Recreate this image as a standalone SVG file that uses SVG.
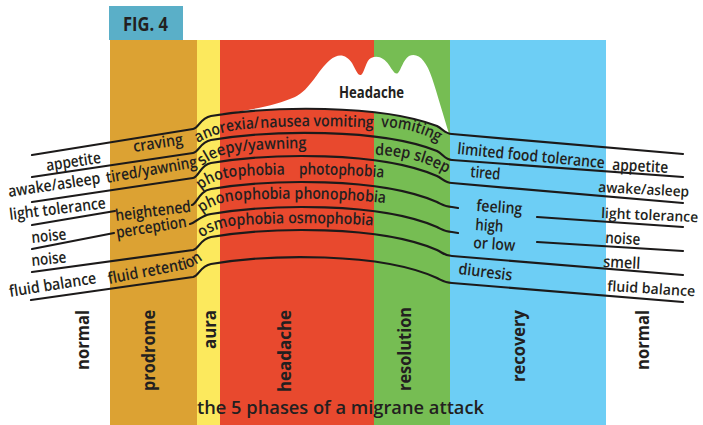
<svg xmlns="http://www.w3.org/2000/svg" width="703" height="425" viewBox="0 0 703 425">
<style>
.ln{fill:none;stroke:#1c1a1a;stroke-width:2.2;stroke-linecap:round;stroke-linejoin:round}
.t{font-family:"Open Sans","Noto Sans",sans-serif;font-weight:600;font-size:16px;fill:#231f20}
.e{font-size:14.5px}
.ph{font-family:"Open Sans","Noto Sans",sans-serif;font-weight:700;font-size:18.5px;fill:#231f20}
</style>
<defs>
<clipPath id="aboveL1"><path d="M211,30 L211,116 C270,106 380,104 437,126 C443,129 445,134 450,134 L450,30 Z"/></clipPath>
<path id="p_r1" d="M198,143 Q216,132 245,129 Q310,124 378,128"/>
<path id="p_v" d="M381,127 Q420,128 446,147"/>
<path id="p_r2" d="M202,166 Q217,153 245,151 Q280,148 318,148"/>
<path id="p_ds" d="M375,155 Q415,155 452,176"/>
<path id="p_r3" d="M201,190 Q214,178 240,176 Q320,172 390,178"/>
<path id="p_r4" d="M202,213 Q215,202 240,200 Q330,196 392,204"/>
<path id="p_r5" d="M202,238 Q215,227 240,225 Q310,221 380,226"/>
<path id="p_fr" d="M109,284 L182,270 Q198,267 214,249"/>
</defs>

<g id="columns">
<rect x="110" y="40" width="87" height="385" fill="#dca233"/>
<rect x="197" y="40" width="23" height="385" fill="#fce95d"/>
<rect x="220" y="40" width="154" height="385" fill="#e8492e"/>
<rect x="374" y="40" width="76" height="385" fill="#76bd53"/>
<rect x="450" y="40" width="156" height="385" fill="#6dcef5"/>
</g>

<g id="fig-label">
<rect x="109" y="6" width="74" height="34" fill="#5aafc8"/>
<text x="123" y="31" style="font-family:'Open Sans','Noto Sans',sans-serif;font-weight:700;font-size:20px;fill:#231f20" textLength="45" lengthAdjust="spacingAndGlyphs">FIG. 4</text>
</g>

<g id="headache-curve">
<path clip-path="url(#aboveL1)" fill="#ffffff" d="M220,125 L220,114 C245,111 275,106 295,97 C310,90 318,70 330,60 C338,53 346,54 352,63 C356,70 358,76 361,75 C364,74 366,60 371,58 C378,55 384,58 389,65 C393,71 395,75 398,73 C401,70 403,60 409,56 C418,52 426,60 432,78 C438,96 444,118 451,140 L451,170 L220,170 Z"/>
<text class="t" x="339" y="98" style="font-weight:700" textLength="65" lengthAdjust="spacingAndGlyphs">Headache</text>
</g>

<g id="connectors">
<path class="ln" d="M32,155 L193,129 C199,128 200,118 211,116 C270,106 380,104 437,126 C443,129 445,134 452,134 L683,154"/>
<path class="ln" d="M32,177 L193,153 C199,152 200,142 211,140 C270,130 380,128 437,151 C443,154 445,160 452,160 L683,177"/>
<path class="ln" d="M32,202 L193,178 C199,177 200,165 211,163 C270,153 380,151 437,176 C443,179 445,183 452,183 L683,203"/>
<path class="ln" d="M32,225 L115,211"/>
<path class="ln" d="M192,205 C197,204 199,191 211,189 C270,179 380,177 437,202 C443,205 445,207 452,207 L458,208"/>
<path class="ln" d="M537,217 L683,227"/>
<path class="ln" d="M32,249 L114,233"/>
<path class="ln" d="M190,224 C196,223 199,216 211,214 C270,204 380,202 437,227 C443,230 445,232 452,232 L458,233"/>
<path class="ln" d="M537,242 L683,251"/>
<path class="ln" d="M32,272 L193,250 C199,249 200,239 211,237 C270,227 380,225 437,250 C443,253 445,256 452,256 L683,275"/>
<path class="ln" d="M31,300 L193,277 C199,276 200,266 211,264 C270,254 380,252 437,278 C443,281 445,283 452,283 L683,302"/>
</g>

<g id="left-labels">
<text class="t" transform="translate(47,171) rotate(-8.5)" textLength="55" lengthAdjust="spacingAndGlyphs">appetite</text>
<text class="t" transform="translate(134,152) rotate(-8.5)" textLength="50" lengthAdjust="spacingAndGlyphs">craving</text>
<text class="t" transform="translate(9,197) rotate(-8.5)" textLength="93" lengthAdjust="spacingAndGlyphs">awake/asleep</text>
<text class="t" transform="translate(107,183) rotate(-10)" textLength="92" lengthAdjust="spacingAndGlyphs">tired/yawning</text>
<text class="t" transform="translate(10,220) rotate(-7)" textLength="97" lengthAdjust="spacingAndGlyphs">light tolerance</text>
<text class="t" transform="translate(116,221) rotate(-7)" textLength="76" lengthAdjust="spacingAndGlyphs">heightened</text>
<text class="t" transform="translate(32,243) rotate(-6)" textLength="35" lengthAdjust="spacingAndGlyphs">noise</text>
<text class="t" transform="translate(117,238) rotate(-9)" textLength="71" lengthAdjust="spacingAndGlyphs">perception</text>
<text class="t" transform="translate(32,266) rotate(-6)" textLength="35" lengthAdjust="spacingAndGlyphs">noise</text>
<text class="t"><textPath href="#p_fr" textLength="98" lengthAdjust="spacingAndGlyphs">fluid retention</textPath></text>
<text class="t" transform="translate(10,297) rotate(-9)" textLength="88" lengthAdjust="spacingAndGlyphs">fluid balance</text>
</g>

<g id="middle-labels">
<text class="t"><textPath href="#p_r1" textLength="64" lengthAdjust="spacingAndGlyphs">anorexia/</textPath></text>
<text class="t"><textPath href="#p_r1" startOffset="65" textLength="113" lengthAdjust="spacingAndGlyphs">nausea vomiting</textPath></text>
<text class="t"><textPath href="#p_v" textLength="60" lengthAdjust="spacingAndGlyphs">vomiting</textPath></text>
<text class="t"><textPath href="#p_r2" textLength="108" lengthAdjust="spacingAndGlyphs">sleepy/yawning</textPath></text>
<text class="t"><textPath href="#p_ds" textLength="75" lengthAdjust="spacingAndGlyphs">deep sleep</textPath></text>
<text class="t"><textPath href="#p_r3" textLength="87" lengthAdjust="spacingAndGlyphs">photophobia</textPath></text>
<text class="t"><textPath href="#p_r3" startOffset="101" textLength="85" lengthAdjust="spacingAndGlyphs">photophobia</textPath></text>
<text class="t"><textPath href="#p_r4" textLength="91" lengthAdjust="spacingAndGlyphs">phonophobia</textPath></text>
<text class="t"><textPath href="#p_r4" startOffset="95" textLength="91" lengthAdjust="spacingAndGlyphs">phonophobia</textPath></text>
<text class="t"><textPath href="#p_r5" textLength="85" lengthAdjust="spacingAndGlyphs">osmophobia</textPath></text>
<text class="t"><textPath href="#p_r5" startOffset="89" textLength="85" lengthAdjust="spacingAndGlyphs">osmophobia</textPath></text>
</g>

<g id="right-labels">
<text class="t" transform="translate(457,154) rotate(5.5)" textLength="148" lengthAdjust="spacingAndGlyphs">limited food tolerance</text>
<text class="t" transform="translate(612,170) rotate(3)" textLength="56" lengthAdjust="spacingAndGlyphs">appetite</text>
<text class="t" transform="translate(470,177) rotate(5)" textLength="30" lengthAdjust="spacingAndGlyphs">tired</text>
<text class="t e" transform="translate(598,192) rotate(3)" textLength="91" lengthAdjust="spacingAndGlyphs">awake/asleep</text>
<text class="t" transform="translate(476,211) rotate(4)" textLength="46" lengthAdjust="spacingAndGlyphs">feeling</text>
<text class="t" transform="translate(475,230) rotate(4)" textLength="28" lengthAdjust="spacingAndGlyphs">high</text>
<text class="t" transform="translate(473,248) rotate(4)" textLength="42" lengthAdjust="spacingAndGlyphs">or low</text>
<text class="t e" transform="translate(601,218) rotate(2.5)" textLength="97" lengthAdjust="spacingAndGlyphs">light tolerance</text>
<text class="t" transform="translate(605,243) rotate(3)" textLength="35" lengthAdjust="spacingAndGlyphs">noise</text>
<text class="t" transform="translate(603,267) rotate(3)" textLength="37" lengthAdjust="spacingAndGlyphs">smell</text>
<text class="t" transform="translate(458,274) rotate(7)" textLength="54" lengthAdjust="spacingAndGlyphs">diuresis</text>
<text class="t e" transform="translate(607,291) rotate(3.5)" textLength="88" lengthAdjust="spacingAndGlyphs">fluid balance</text>
</g>

<g id="phase-labels">
<text class="ph" text-anchor="end" transform="translate(89,310) rotate(-90)" textLength="60" lengthAdjust="spacingAndGlyphs">normal</text>
<text class="ph" text-anchor="end" transform="translate(155,310) rotate(-90)" textLength="81" lengthAdjust="spacingAndGlyphs">prodrome</text>
<text class="ph" text-anchor="end" transform="translate(216,310) rotate(-90)" textLength="39" lengthAdjust="spacingAndGlyphs">aura</text>
<text class="ph" text-anchor="end" transform="translate(291,310) rotate(-90)" textLength="82" lengthAdjust="spacingAndGlyphs">headache</text>
<text class="ph" text-anchor="end" transform="translate(411,307) rotate(-90)" textLength="84" lengthAdjust="spacingAndGlyphs">resolution</text>
<text class="ph" text-anchor="end" transform="translate(525,310) rotate(-90)" textLength="72" lengthAdjust="spacingAndGlyphs">recovery</text>
<text class="ph" text-anchor="end" transform="translate(649,310) rotate(-90)" textLength="60" lengthAdjust="spacingAndGlyphs">normal</text>
</g>

<g id="title">
<text class="t" x="197" y="414" style="font-size:18px" textLength="287" lengthAdjust="spacingAndGlyphs">the 5 phases of a migrane attack</text>
</g>
</svg>
